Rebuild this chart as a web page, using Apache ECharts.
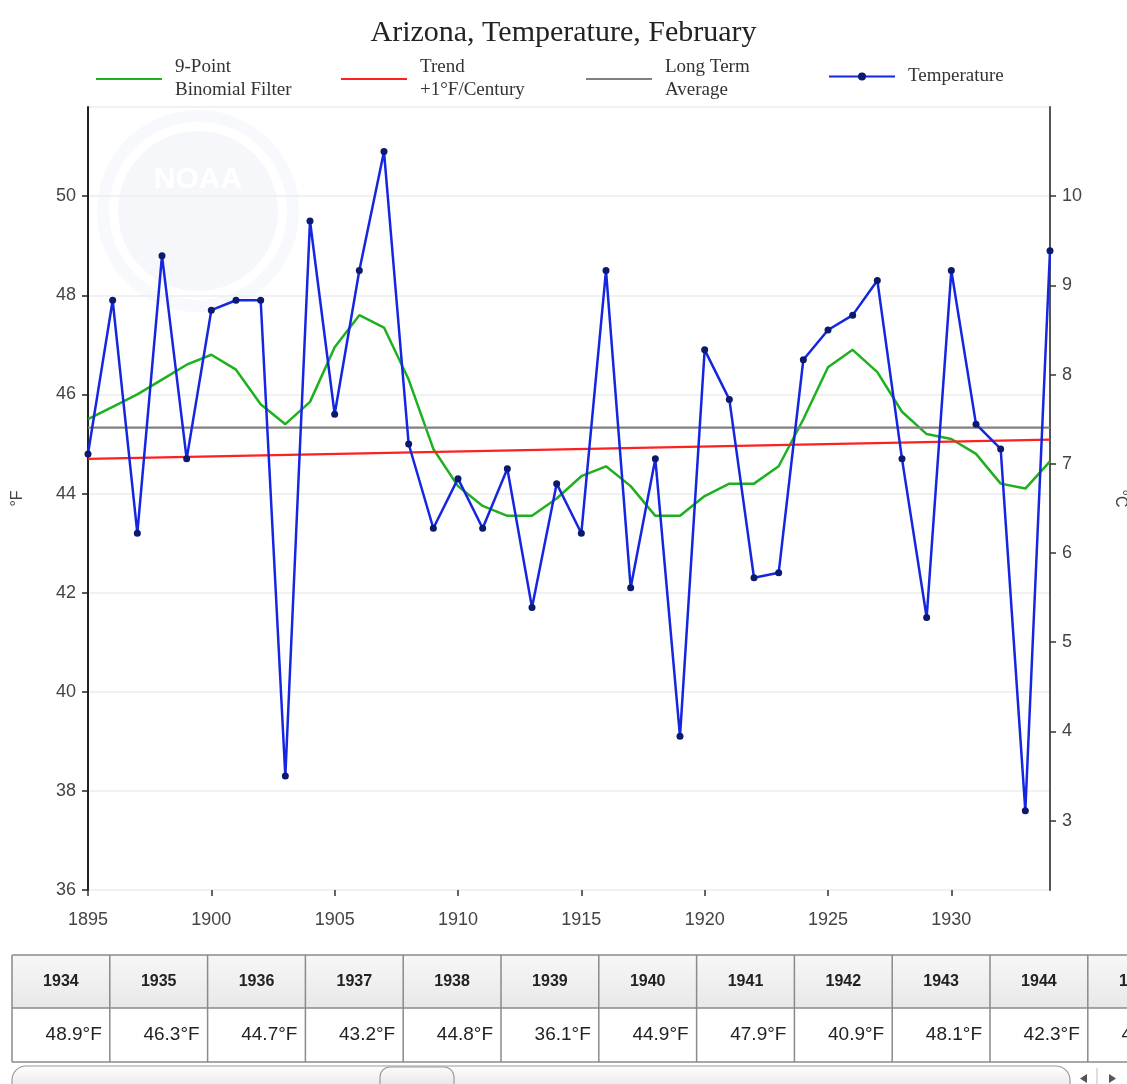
<!DOCTYPE html>
<html>
<head>
<meta charset="utf-8">
<script src="https://cdn.jsdelivr.net/npm/echarts@6/dist/echarts.min.js"></script>
<style>
html,body{margin:0;padding:0;background:#fff;overflow:hidden;}
#chart{width:1127px;height:1084px;}
</style>
</head>
<body>
<div id="chart"></div>
<script>
// ---- data ----
const years = [1895,1896,1897,1898,1899,1900,1901,1902,1903,1904,1905,1906,1907,1908,1909,1910,1911,1912,1913,1914,1915,1916,1917,1918,1919,1920,1921,1922,1923,1924,1925,1926,1927,1928,1929,1930,1931,1932,1933,1934];
const temperature = [44.8,47.9,43.2,48.8,44.7,47.7,47.9,47.9,38.3,49.5,45.6,48.5,50.9,45.0,43.3,44.3,43.3,44.5,41.7,44.2,43.2,48.5,42.1,44.7,39.1,46.9,45.9,42.3,42.4,46.7,47.3,47.6,48.3,44.7,41.5,48.5,45.4,44.9,37.6,48.9];
const binomial = [45.5,45.75,46.0,46.3,46.6,46.8,46.5,45.8,45.4,45.85,46.95,47.6,47.35,46.3,44.9,44.15,43.75,43.55,43.55,43.9,44.35,44.55,44.15,43.55,43.55,43.95,44.2,44.2,44.55,45.5,46.55,46.9,46.45,45.65,45.2,45.1,44.8,44.2,44.1,44.65];
const trendYears = [1895,1934];
const trendValues = [44.7,45.09];
const averageYears = [1895,1934];
const averageValues = [45.33,45.33];
const tableYears = [1934,1935,1936,1937,1938,1939,1940,1941,1942,1943,1944,1945];
const tableValues = [48.9,46.3,44.7,43.2,44.8,36.1,44.9,47.9,40.9,48.1,42.3,46.0];

const fMin = 36, fMax = 51.8;
const toC = f => (f - 32) / 1.8;

const pairs = (xs, ys) => xs.map((x, i) => [x, ys[i]]);

// ---- table / scrollbar graphics ----
const sans = 'Liberation Sans, Arial, sans-serif';
const tb = { left: 12, top: 955, headH: 53, rowH: 54, colW: 97.8 };
const tableEls = [];
const tableRight = 1140;
tableEls.push({
  type: 'rect', shape: { x: tb.left, y: tb.top, width: tableRight - tb.left, height: tb.headH },
  style: { fill: new echarts.graphic.LinearGradient(0, 0, 0, 1, [{offset: 0, color: '#f7f7f7'}, {offset: 1, color: '#e8e8e8'}]) }
});
tableEls.push({
  type: 'rect', shape: { x: tb.left, y: tb.top + tb.headH, width: tableRight - tb.left, height: tb.rowH },
  style: { fill: '#ffffff' }
});
[tb.top, tb.top + tb.headH, tb.top + tb.headH + tb.rowH].forEach(y => {
  tableEls.push({ type: 'line', shape: { x1: tb.left, y1: y, x2: tableRight, y2: y }, style: { stroke: '#8a8a8a', lineWidth: 1.5 } });
});
tableYears.forEach((yr, i) => {
  const x0 = tb.left + i * tb.colW;
  tableEls.push({ type: 'line', shape: { x1: x0, y1: tb.top, x2: x0, y2: tb.top + tb.headH + tb.rowH }, style: { stroke: '#8a8a8a', lineWidth: 1.5 } });
  tableEls.push({ type: 'text', x: x0 + tb.colW / 2, y: tb.top + tb.headH / 2,
    style: { text: String(yr), font: 'bold 16px ' + sans, fill: '#222', align: 'center', verticalAlign: 'middle' } });
  tableEls.push({ type: 'text', x: x0 + tb.colW - 8, y: tb.top + tb.headH + tb.rowH / 2,
    style: { text: tableValues[i].toFixed(1) + '°F', font: '19px ' + sans, fill: '#222', align: 'right', verticalAlign: 'middle' } });
});
// scrollbar
tableEls.push({
  type: 'rect', shape: { x: 12, y: 1066, width: 1058, height: 32, r: 14 },
  style: { fill: new echarts.graphic.LinearGradient(0, 0, 0, 1, [{offset: 0, color: '#ffffff'}, {offset: 1, color: '#dedede'}]), stroke: '#9a9a9a', lineWidth: 1.2 }
});
tableEls.push({
  type: 'rect', shape: { x: 380, y: 1067, width: 74, height: 30, r: 10 },
  style: { fill: new echarts.graphic.LinearGradient(0, 0, 0, 1, [{offset: 0, color: '#fdfdfd'}, {offset: 1, color: '#d8d8d8'}]), stroke: '#9a9a9a', lineWidth: 1.2 }
});
tableEls.push({ type: 'line', shape: { x1: 1097, y1: 1068, x2: 1097, y2: 1084 }, style: { stroke: '#bbb', lineWidth: 1 } });
tableEls.push({ type: 'polygon', shape: { points: [[1087, 1074], [1087, 1083], [1080, 1078.5]] }, style: { fill: '#555' } });
tableEls.push({ type: 'polygon', shape: { points: [[1109, 1074], [1109, 1083], [1116, 1078.5]] }, style: { fill: '#555' } });

// faint NOAA watermark
const watermark = [
  { type: 'circle', shape: { cx: 198, cy: 211, r: 95 }, style: { fill: 'none', stroke: '#f8f9fc', lineWidth: 12 }, z: 0 },
  { type: 'circle', shape: { cx: 198, cy: 211, r: 80 }, style: { fill: '#f6f7fb' }, z: 0 },
  { type: 'text', x: 198, y: 180, style: { text: 'NOAA', font: 'bold 30px ' + sans, fill: '#ffffff', align: 'center', verticalAlign: 'middle' }, z: 0 }
];

const legendText = { fontFamily: 'Liberation Serif, Times New Roman, serif', fontSize: 19, color: '#333', lineHeight: 23, padding: [0, 0, 0, 8] };
const legendBase = { orient: 'horizontal', itemWidth: 66, itemHeight: 14, selectedMode: false, textStyle: legendText };
const noSymbol = { itemStyle: { opacity: 0 } };

const axisFont = { fontFamily: sans, fontSize: 18, color: '#444' };

const chart = echarts.init(document.getElementById('chart'), null, { renderer: 'canvas' });
chart.setOption({
  animation: false,
  backgroundColor: '#ffffff',
  title: {
    text: 'Arizona, Temperature, February',
    left: 'center', top: 13,
    textStyle: { fontFamily: 'Liberation Serif, Times New Roman, serif', fontSize: 30, fontWeight: 'normal', color: '#222' }
  },
  legend: [
    Object.assign({}, legendBase, noSymbol, { data: ['9-Point Binomial Filter'], left: 90, top: 51, formatter: () => '9-Point\nBinomial Filter' }),
    Object.assign({}, legendBase, noSymbol, { data: ['Trend +1°F/Century'], left: 335, top: 51, formatter: () => 'Trend\n+1°F/Century' }),
    Object.assign({}, legendBase, noSymbol, { data: ['Long Term Average'], left: 580, top: 51, formatter: () => 'Long Term\nAverage' }),
    Object.assign({}, legendBase, { data: ['Temperature'], left: 823, top: 60, itemHeight: 10 })
  ],
  grid: { left: 88, right: 77, top: 107, bottom: 194, containLabel: false, outerBoundsMode: 'none' },
  xAxis: {
    type: 'value', min: 1895, max: 1934, interval: 5,
    axisLine: { show: false },
    axisTick: { show: true, length: 6, lineStyle: { color: '#333', width: 1.5 } },
    axisLabel: Object.assign({ margin: 21, showMaxLabel: false, formatter: v => String(v) }, axisFont),
    splitLine: { show: false }
  },
  yAxis: [
    {
      type: 'value', min: fMin, max: fMax, interval: 2, position: 'left',
      name: '°F', nameLocation: 'middle', nameGap: 62, nameRotate: 90,
      nameTextStyle: { fontFamily: sans, fontSize: 16, color: '#444' },
      axisLine: { show: true, lineStyle: { color: '#222', width: 2 } },
      axisTick: { show: true, length: 6, lineStyle: { color: '#222', width: 1.5 } },
      axisLabel: Object.assign({ margin: 12, showMaxLabel: false }, axisFont),
      splitLine: { show: true, lineStyle: { color: '#ececec', width: 1.5 } }
    },
    {
      type: 'value', min: toC(fMin), max: toC(fMax), splitNumber: 9, position: 'right',
      name: '°C', nameLocation: 'middle', nameGap: 62, nameRotate: -90,
      nameTextStyle: { fontFamily: sans, fontSize: 16, color: '#444' },
      axisLine: { show: true, lineStyle: { color: '#555', width: 2 } },
      axisTick: { show: true, length: 6, lineStyle: { color: '#333', width: 1.5 } },
      axisLabel: Object.assign({ margin: 12, showMinLabel: false, showMaxLabel: false,
        formatter: v => (Math.abs(v - Math.round(v)) < 1e-6 ? String(Math.round(v)) : '') }, axisFont),
      splitLine: { show: false }
    }
  ],
  series: [
    {
      name: '9-Point Binomial Filter', type: 'line', yAxisIndex: 0,
      data: pairs(years, binomial), symbol: 'none', smooth: false,
      lineStyle: { color: '#1fb01f', width: 2.5 }, itemStyle: { color: '#1fb01f' }, z: 3
    },
    {
      name: 'Trend +1°F/Century', type: 'line', yAxisIndex: 0,
      data: pairs(trendYears, trendValues), symbol: 'none',
      lineStyle: { color: '#ff2020', width: 2.2 }, itemStyle: { color: '#ff2020' }, z: 3
    },
    {
      name: 'Long Term Average', type: 'line', yAxisIndex: 0,
      data: pairs(averageYears, averageValues), symbol: 'none',
      lineStyle: { color: '#808080', width: 2.2 }, itemStyle: { color: '#808080' }, z: 3
    },
    {
      name: 'Temperature', type: 'line', yAxisIndex: 0,
      data: pairs(years, temperature), symbol: 'circle', symbolSize: 7,
      lineStyle: { color: '#1526e0', width: 2.5 }, itemStyle: { color: '#0c1a6e' }, z: 4
    }
  ],
  graphic: { elements: watermark.concat(tableEls) }
});
</script>
</body>
</html>
